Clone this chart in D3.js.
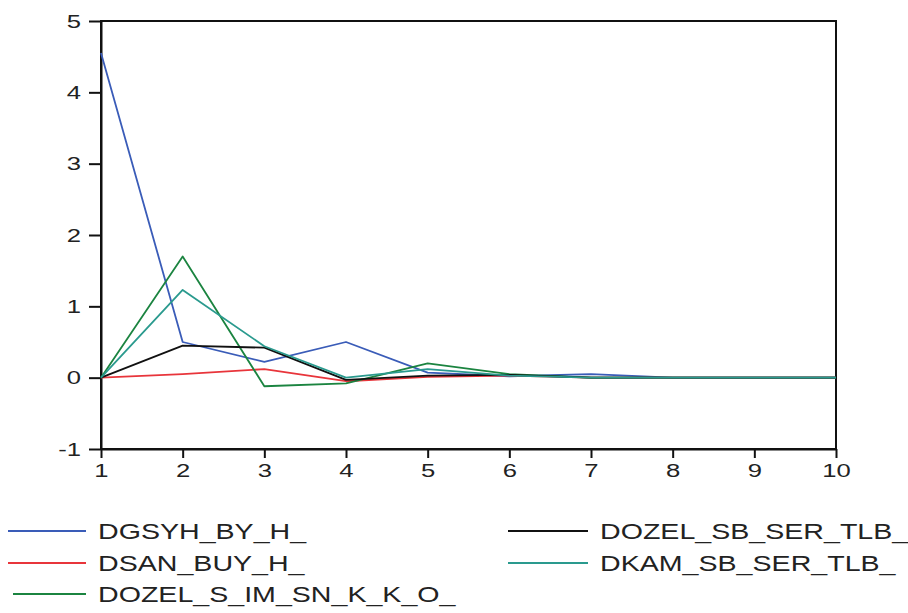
<!DOCTYPE html>
<html>
<head>
<meta charset="utf-8">
<script src="https://cdn.jsdelivr.net/npm/d3@7"></script>
<style>
	body { margin: 0; background: #fff; }
	svg { display: block; }
	text { font-family: "Liberation Sans", Arial, sans-serif; fill: #222; }
</style>
</head>
<body>
<svg width="908" height="613"></svg>
<script>
// periods 1..10
var periods = [1, 2, 3, 4, 5, 6, 7, 8, 9, 10];
var yTicks = [-1, 0, 1, 2, 3, 4, 5];

var dgsyh = [4.55, 0.50, 0.22, 0.50, 0.07, 0.02, 0.05, 0.00, 0.00, 0.00];
var dsan = [0.00, 0.05, 0.12, -0.05, 0.01, 0.03, 0.00, 0.00, 0.00, 0.00];
var dozelSim = [0.00, 1.70, -0.12, -0.08, 0.20, 0.05, 0.00, 0.00, 0.00, 0.00];
var dozelSb = [0.00, 0.45, 0.42, -0.03, 0.03, 0.04, 0.00, 0.00, 0.00, 0.00];
var dkam = [0.00, 1.23, 0.44, 0.00, 0.12, 0.03, 0.00, 0.00, 0.00, 0.00];

var names = ['DGSYH_BY_H_', 'DSAN_BUY_H_', 'DOZEL_S_IM_SN_K_K_O_', 'DOZEL_SB_SER_TLB_', 'DKAM_SB_SER_TLB_'];

var series = [
	{name: names[0], values: dgsyh, color: '#3a5cb8', legend: [0, 0]},
	{name: names[1], values: dsan, color: '#e8353b', legend: [0, 1]},
	{name: names[2], values: dozelSim, color: '#1b8440', legend: [0, 2]},
	{name: names[3], values: dozelSb, color: '#111111', legend: [1, 0]},
	{name: names[4], values: dkam, color: '#2a9a8e', legend: [1, 1]}
];

var svg = d3.select('svg');
var pLeft = 101, pRight = 836, pTop = 21, pBottom = 449;
var sx = 1.35; // text in the picture is stretched sideways

var x = d3.scaleLinear().domain([1, 10]).range([pLeft, pRight]);
var y = d3.scaleLinear().domain([-1, 5]).range([pBottom, pTop]);

// frame
svg.append('rect')
	.attr('x', pLeft).attr('y', pTop)
	.attr('width', pRight - pLeft).attr('height', pBottom - pTop)
	.attr('fill', 'none').attr('stroke', '#111').attr('stroke-width', 2);

var plain = function(d) { return String(d); };

var yAxis = svg.append('g')
	.attr('transform', 'translate(' + pLeft + ',0)')
	.call(d3.axisLeft(y).tickValues(yTicks).tickFormat(plain).tickSize(12).tickSizeOuter(0).tickPadding(8));
var xAxis = svg.append('g')
	.attr('transform', 'translate(0,' + pBottom + ')')
	.call(d3.axisBottom(x).tickValues(periods).tickFormat(plain).tickSize(9).tickSizeOuter(0).tickPadding(6));

[yAxis, xAxis].forEach(function(a) {
	a.select('.domain').attr('stroke', '#111').attr('stroke-width', 2);
	a.selectAll('.tick line').attr('stroke', '#111').attr('stroke-width', 2);
	a.selectAll('.tick text')
		.style('font-size', '19px')
		.attr('fill', '#222');
});
yAxis.selectAll('.tick text').each(function() {
	var t = d3.select(this);
	var xx = +t.attr('x');
	t.attr('x', null).attr('transform', 'translate(' + xx + ',0) scale(' + sx + ',1)');
});
xAxis.selectAll('.tick text').each(function() {
	var t = d3.select(this);
	var yy = +t.attr('y');
	t.attr('y', null).attr('dy', '0.71em')
		.attr('transform', 'translate(0,' + yy + ') scale(' + sx + ',1)');
});

var line = d3.line()
	.x(function(d, i) { return x(periods[i]); })
	.y(function(d) { return y(d); });

series.forEach(function(s) {
	svg.append('path')
		.datum(s.values)
		.attr('fill', 'none')
		.attr('stroke', s.color)
		.attr('stroke-width', 1.8)
		.attr('stroke-linejoin', 'round')
		.attr('d', line);
});

// legend
var legCols = [{x1: 8, x2: 86, tx: 98}, {x1: 508, x2: 588, tx: 600}];
var legRows = [531, 563, 594];
series.forEach(function(s) {
	var c = legCols[s.legend[0]], r = legRows[s.legend[1]];
	svg.append('line')
		.attr('x1', s.legend[1] == 2 ? c.x1 + 5 : c.x1).attr('x2', c.x2)
		.attr('y1', r).attr('y2', r)
		.attr('stroke', s.color).attr('stroke-width', 2);
	svg.append('text')
		.attr('transform', 'translate(' + c.tx + ',' + (r + 8) + ') scale(1.3,1)')
		.style('font-size', '22px')
		.text(s.name);
});
</script>
</body>
</html>
